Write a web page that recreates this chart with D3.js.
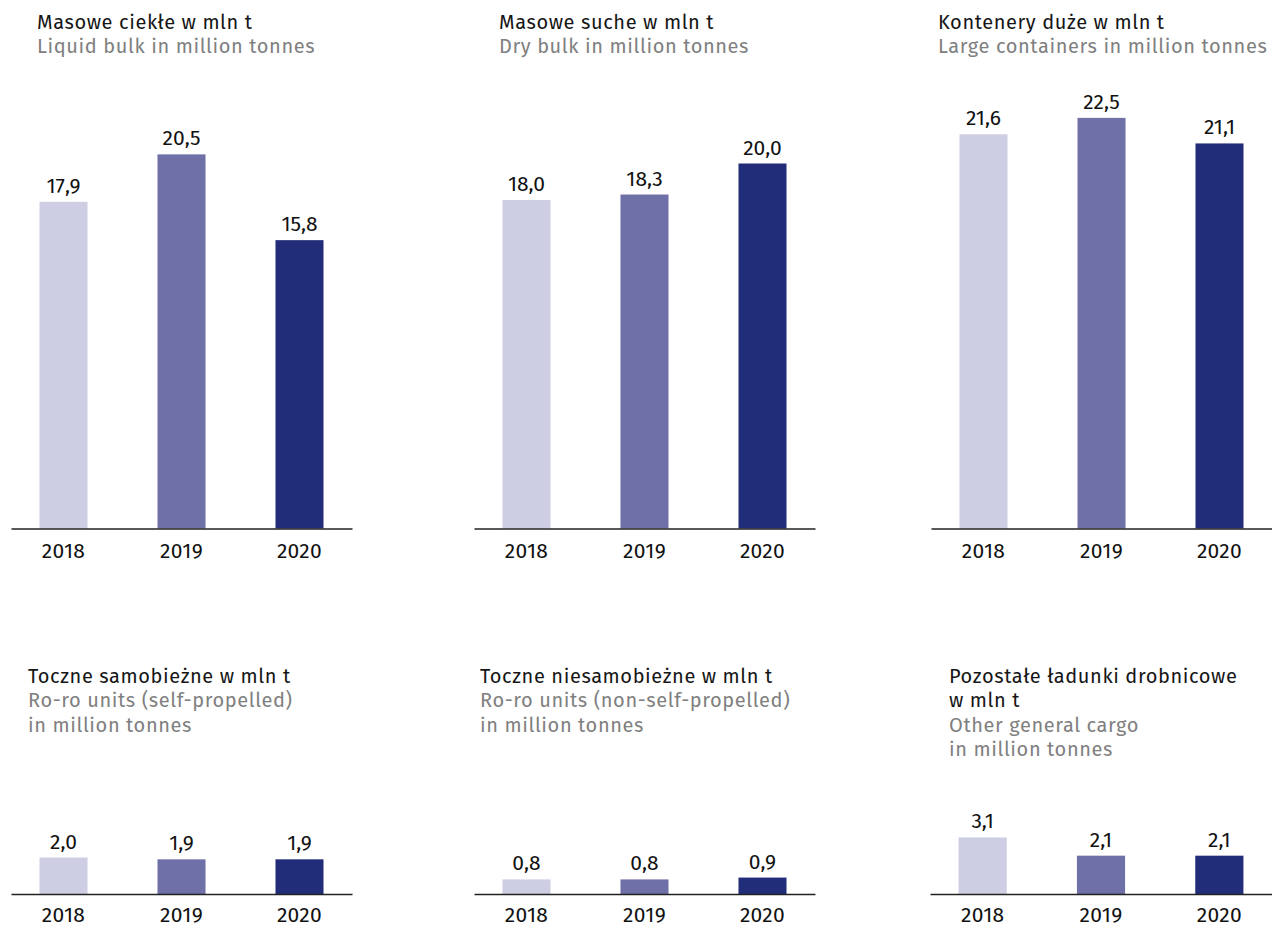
<!DOCTYPE html>
<html>
<head>
<meta charset="utf-8">
<script src="https://cdn.jsdelivr.net/npm/d3@7/dist/d3.min.js"></script>
<style>
  html, body { margin: 0; padding: 0; background: #ffffff; }
  svg { display: block; }
  text { font-family: "Fira Sans", "Open Sans", "Noto Sans", sans-serif; }
</style>
</head>
<body>
<svg id="chart" width="1272" height="928"></svg>
<script>
// ---- data ----
const years = ["2018", "2019", "2020"];

const liquidBulk      = [17.9, 20.5, 15.8];
const dryBulk         = [18.0, 18.3, 20.0];
const largeContainers = [21.6, 22.5, 21.1];
const roroSelf        = [2.0, 1.9, 1.9];
const roroNonSelf     = [0.8, 0.8, 0.9];
const otherGeneral    = [3.1, 2.1, 2.1];

const titlesPL = [
  ["Masowe ciekłe w mln t"],
  ["Masowe suche w mln t"],
  ["Kontenery duże w mln t"],
  ["Toczne samobieżne w mln t"],
  ["Toczne niesamobieżne w mln t"],
  ["Pozostałe ładunki drobnicowe", "w mln t"]
];
const titlesEN = [
  ["Liquid bulk in million tonnes"],
  ["Dry bulk in million tonnes"],
  ["Large containers in million tonnes"],
  ["Ro-ro units (self-propelled)", "in million tonnes"],
  ["Ro-ro units (non-self-propelled)", "in million tonnes"],
  ["Other general cargo", "in million tonnes"]
];
const seriesList = [liquidBulk, dryBulk, largeContainers, roroSelf, roroNonSelf, otherGeneral];
const yearColors = ["#cdcee4", "#6f70a7", "#212d78"];

// ---- layout ----
const panels = [
  { x0: 11,  x1: 352,  base: 528.5, tx: 37,  ty: 28.5, pad: 15 },
  { x0: 474, x1: 815,  base: 528.5, tx: 499, ty: 28.5, pad: 15 },
  { x0: 931, x1: 1272, base: 528.5, tx: 938, ty: 28.5, pad: 15 },
  { x0: 11,  x1: 352,  base: 894,   tx: 28,  ty: 683,  pad: 13 },
  { x0: 474, x1: 815,  base: 894,   tx: 480, ty: 683,  pad: 13 },
  { x0: 930, x1: 1272, base: 894,   tx: 949, ty: 683,  pad: 13 }
];
const pxPerUnit = 18.25;
const lineH = 24.3;
const fmt = v => d3.format(".1f")(v).replace(".", ",");

const svg = d3.select("#chart");
const color = d3.scaleOrdinal().domain(years).range(yearColors);

panels.forEach((p, i) => {
  const g = svg.append("g");
  const vals = seriesList[i];
  const data = years.map((y, k) => ({ year: y, value: vals[k] }));

  const x = d3.scaleBand().domain(years).range([p.x0, p.x1])
    .paddingInner(0.593).paddingOuter(0.2415);
  const yMax = 22.5;
  const y = d3.scaleLinear().domain([0, yMax]).range([p.base, p.base - yMax * pxPerUnit]);

  // titles
  const pl = titlesPL[i], en = titlesEN[i];
  pl.forEach((t, k) => {
    g.append("text").attr("x", p.tx).attr("y", p.ty + k * lineH)
      .attr("font-size", 20).attr("letter-spacing", 0.6)
      .attr("fill", "#161616").text(t);
  });
  en.forEach((t, k) => {
    g.append("text").attr("x", p.tx).attr("y", p.ty + (pl.length + k) * lineH)
      .attr("font-size", 20).attr("letter-spacing", 0.6)
      .attr("fill", "#808080").text(t);
  });

  // bars
  g.selectAll("rect.bar").data(data).join("rect")
    .attr("class", "bar")
    .attr("x", d => x(d.year))
    .attr("width", x.bandwidth())
    .attr("y", d => y(d.value))
    .attr("height", d => y(0) - y(d.value))
    .attr("fill", d => color(d.year));

  // value labels
  g.selectAll("text.val").data(data).join("text")
    .attr("class", "val")
    .attr("x", d => x(d.year) + x.bandwidth() / 2)
    .attr("y", d => y(d.value) - 9)
    .attr("text-anchor", "middle")
    .attr("font-size", 21).attr("fill", "#111")
    .text(d => fmt(d.value));

  // axis
  const axis = d3.axisBottom(x).tickSize(0).tickPadding(p.pad);
  const ag = g.append("g").attr("transform", `translate(0,${p.base})`).call(axis);
  ag.select(".domain").attr("stroke", "#222").attr("stroke-width", 1.5);
  ag.selectAll(".tick text").attr("font-size", 21).attr("letter-spacing", 0.3)
    .attr("fill", "#111")
    .attr("font-family", "\"Fira Sans\", \"Open Sans\", \"Noto Sans\", sans-serif");
});
</script>
</body>
</html>
